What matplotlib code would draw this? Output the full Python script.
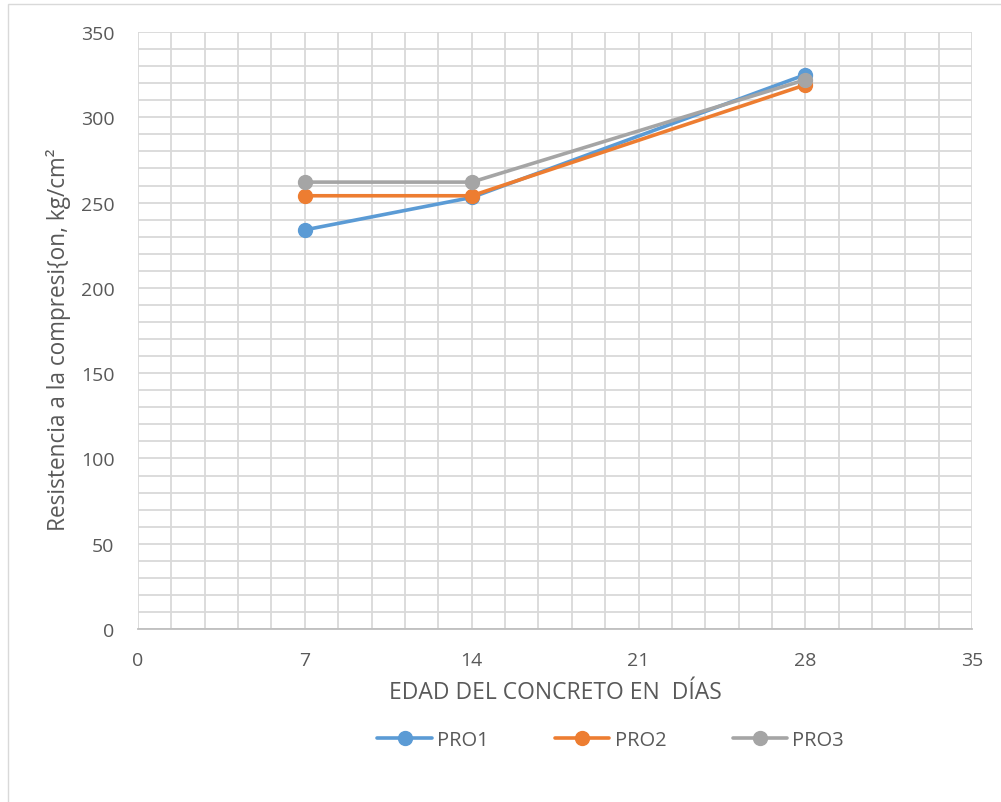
import matplotlib.pyplot as plt
from matplotlib.patches import Rectangle
from matplotlib.ticker import MultipleLocator

plt.rcParams['font.family'] = ['Open Sans', 'DejaVu Sans']

# data
dias = [7, 14, 28]
pro1 = [234, 253, 325]
pro2 = [254, 254, 319]
pro3 = [262, 262, 322]
series = [('PRO1', pro1, '#5B9BD5'),
          ('PRO2', pro2, '#ED7D31'),
          ('PRO3', pro3, '#A5A5A5')]

txt = '#595959'
grid = '#D9D9D9'

fig = plt.figure(figsize=(10.01, 8.03), dpi=100)
ax = fig.add_axes([0.1379, 0.2154, 0.8333, 0.7435])

for name, vals, col in series:
    ax.plot(dias, vals, color=col, lw=2.6, marker='o', ms=10, label=name,
            solid_capstyle='round')

ax.set_xlim(0, 35)
ax.set_ylim(0, 350)
ax.xaxis.set_major_locator(MultipleLocator(7))
ax.xaxis.set_minor_locator(MultipleLocator(1.4))
ax.yaxis.set_major_locator(MultipleLocator(50))
ax.yaxis.set_minor_locator(MultipleLocator(10))
ax.grid(True, which='both', color=grid, lw=1.3, zorder=0)
ax.set_axisbelow(True)
for s in ['top', 'right', 'left']:
    ax.spines[s].set_visible(False)
ax.spines['bottom'].set_color('#BFBFBF')
ax.spines['bottom'].set_linewidth(1.3)
ax.tick_params(which='both', length=0, labelsize=14, labelcolor=txt)
ax.tick_params(axis='x', pad=16)
ax.tick_params(axis='y', pad=17)

ax.set_xlabel('EDAD DEL CONCRETO EN  DÍAS', fontsize=16.5, color=txt, labelpad=8)
ax.set_ylabel('Resistencia a la compresi{on, kg/cm²', fontsize=16.3, color=txt)
ax.yaxis.set_label_coords(-0.080, 0.487)

fig.legend(loc='center', bbox_to_anchor=(0.61, 0.077), ncol=3, frameon=False,
           fontsize=14.5, labelcolor=txt, handlelength=2.7, columnspacing=3.3,
           handletextpad=0.25)

fig.patches.append(Rectangle((0.008, -0.01), 1.0, 1.004, transform=fig.transFigure,
                             fill=False, edgecolor='#D9D9D9', lw=1.0))

fig.savefig('out.png', dpi=100)
